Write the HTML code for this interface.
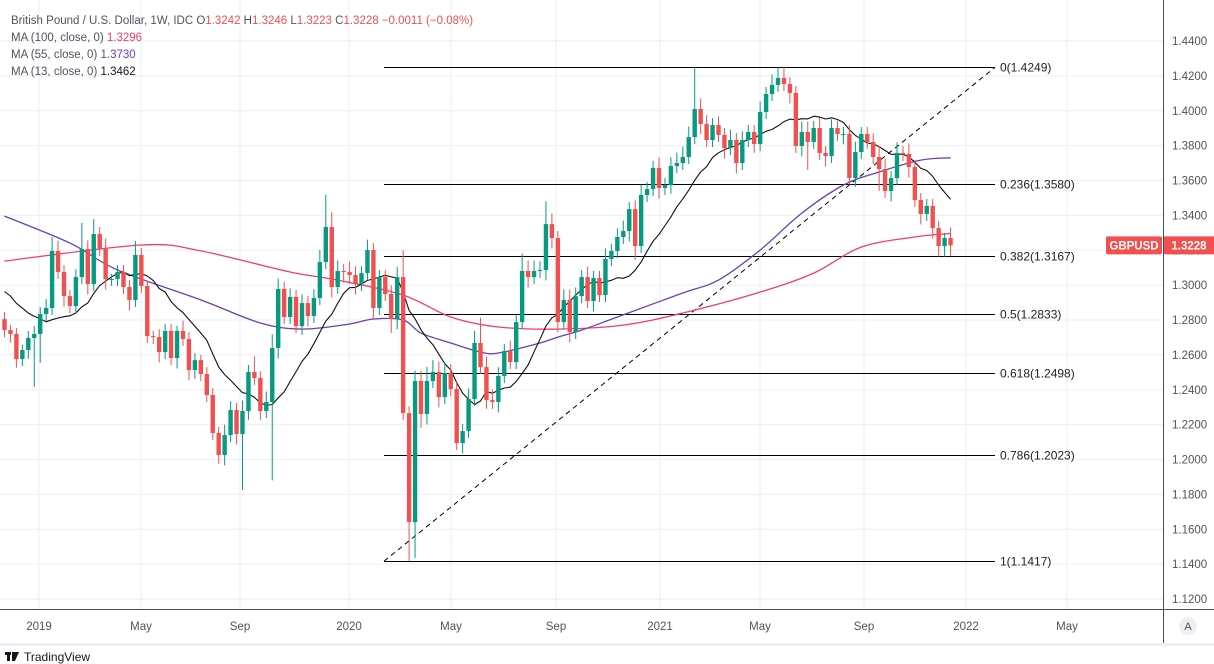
<!DOCTYPE html>
<html><head><meta charset="utf-8"><style>
body{margin:0;background:#fff;width:1214px;height:664px;overflow:hidden;font-family:"Liberation Sans",sans-serif}
svg{position:absolute;left:0;top:0}
</style></head><body>
<svg id="c" width="1214" height="664"></svg>
<script>
const closes=[1.2742,1.2720,1.2576,1.2628,1.2697,1.2720,1.2834,1.2869,1.3196,1.3075,1.2937,1.2880,1.3046,1.3207,1.3006,1.3293,1.3207,1.3035,1.3035,1.3075,
1.2989,1.2915,1.3173,1.2995,1.2708,1.2702,1.2616,1.2737,1.2582,1.2737,1.2691,1.2513,1.2570,1.2490,1.2370,1.2152,1.2026,1.2140,1.2284,1.2146,
1.2278,1.2502,1.2467,1.2278,1.2330,1.2639,1.2978,1.2817,1.2932,1.2765,1.2897,1.2823,1.2926,1.3132,1.3333,1.2989,1.3081,1.3075,1.3058,1.3006,
1.3069,1.3201,1.2869,1.3046,1.2949,1.2806,1.3046,1.2266,1.1641,1.2450,1.2261,1.2450,1.2502,1.2358,1.2496,1.2404,1.2094,1.2163,1.2347,1.2668,
1.2530,1.2341,1.2330,1.2479,1.2622,1.2559,1.2788,1.3081,1.3046,1.3081,1.3087,1.3350,1.3270,1.2788,1.2915,1.2731,1.2937,1.3046,1.2909,1.3041,
1.2943,1.3150,1.3196,1.3276,1.3310,1.3436,1.3224,1.3517,1.3551,1.3672,1.3557,1.3574,1.3683,1.3700,1.3735,1.3849,1.4010,1.3924,1.3832,1.3918,
1.3861,1.3786,1.3832,1.3700,1.3832,1.3878,1.3809,1.3993,1.4096,1.4148,1.4188,1.4153,1.4102,1.3798,1.3878,1.3821,1.3901,1.3758,1.3740,1.3901,
1.3867,1.3867,1.3614,1.3763,1.3867,1.3821,1.3735,1.3666,1.3540,1.3614,1.3758,1.3752,1.3677,1.3488,1.3408,1.3454,1.3327,1.3224,1.3270,1.3228];
const firstOpen=1.2805;
const preCloses=[1.3050,1.3120,1.2990,1.3070,1.2960,1.3010,1.3100,1.3040,1.2950,1.2840,1.2800,1.2850];
const wickUp=[40,30,35,30,40,45,40,50,80,60,40,35,45,150,50,85,40,60,30,40,
40,40,80,40,30,30,45,40,40,30,60,40,40,30,40,40,35,60,50,40,
60,40,90,40,60,80,60,40,50,40,50,40,50,70,185,85,60,40,60,50,
40,60,40,40,40,50,60,155,40,60,60,80,70,60,60,50,40,40,60,70,
145,60,60,50,40,60,40,100,60,60,50,130,60,40,60,60,50,40,60,40,
40,60,40,50,60,40,50,60,40,40,60,40,50,60,60,60,240,60,50,40,
50,40,60,40,50,40,40,60,40,60,60,65,40,40,60,60,40,60,40,50,
40,40,50,60,40,40,50,60,60,40,60,40,60,40,40,40,40,40,30,60];
const wickDn=[40,50,50,40,50,280,165,40,40,40,60,40,40,40,60,40,40,60,40,40,
40,60,40,40,40,40,60,40,40,60,40,60,50,40,40,40,50,60,40,60,
320,50,40,50,40,450,60,40,40,40,50,60,40,40,40,60,40,60,50,60,
40,40,60,40,40,80,60,40,225,205,80,60,40,60,40,40,40,60,40,40,
40,50,40,60,40,40,40,40,60,40,40,60,60,60,40,60,40,40,40,60,
40,40,40,40,40,60,80,40,40,40,60,40,50,40,40,40,40,60,40,40,
40,60,40,60,40,40,50,40,40,40,40,40,60,40,60,160,40,40,60,40,
40,60,40,50,40,40,40,125,40,60,40,40,60,40,60,40,60,60,60,60];
const ma100Idx=[0,23,33,48,56,67,75,83,93,104,114,127,136,144,153,159];
const ma100Val=[1.3138,1.3230,1.3196,1.3075,1.3029,1.2943,1.2817,1.2760,1.2748,1.2771,1.2840,1.2960,1.3069,1.3218,1.3276,1.3296];
const ma55Idx=[0,11,19,33,43,50,58,62,67,70,75,80,83,90,93,97,103,114,120,127,134,141,147,154,159];
const ma55Val=[1.3396,1.3241,1.3087,1.2915,1.2783,1.2748,1.2777,1.2806,1.2800,1.2725,1.2668,1.2616,1.2611,1.2668,1.2702,1.2742,1.2817,1.2955,1.3029,1.3201,1.3413,1.3574,1.3649,1.3717,1.3730];
const yTicks=[1.44,1.42,1.40,1.38,1.36,1.34,1.32,1.30,1.28,1.26,1.24,1.22,1.20,1.18,1.16,1.14,1.12];
const xLabels=["2019","May","Sep","2020","May","Sep","2021","May","Sep","2022","May"];
const xLabelPos=[39,141,240,349,451,556,660,760,864,966,1067];
const fibLevels=["0","0.236","0.382","0.5","0.618","0.786","1"];
const fibPrices=[1.4249,1.3580,1.3167,1.2833,1.2498,1.2023,1.1417];
const fibLow=1.1417, fibHigh=1.4249;

const NS="http://www.w3.org/2000/svg";
const svg=document.getElementById('c');
const Y=p=>41+(1.44-p)*1743.75;
const X=i=>4.5+i*5.95;
function el(t,a,par){const e=document.createElementNS(NS,t);for(const k in a)e.setAttribute(k,a[k]);(par||svg).appendChild(e);return e;}
function txt(x,y,s,a){const e=el('text',Object.assign({x:x,y:y,'font-size':12,fill:'#131722','font-family':'Liberation Sans, sans-serif'},a||{}));e.textContent=s;return e;}

const grid=el('g',{});
yTicks.forEach(p=>{el('line',{x1:0,x2:1163,y1:Y(p),y2:Y(p),stroke:'#eaeff4','stroke-width':1},grid);});
xLabelPos.forEach(x=>{el('line',{x1:x,x2:x,y1:0,y2:609,stroke:'#eaeff4','stroke-width':1},grid);});

const fib=el('g',{});
fibLevels.forEach((l,k)=>{const p=fibPrices[k];const y=Math.round(Y(p))+0.5;
 const ln=el('line',{x1:384,x2:995,y1:y,y2:y,stroke:'#000','stroke-width':1},fib);
 
 const t=txt(1000,y+4,l+'('+p.toFixed(4)+')',{'font-size':12,fill:'#222'});fib.appendChild(t);
 });
const tl=el('line',{x1:384,y1:Y(fibLow),x2:995,y2:Y(fibHigh),stroke:'#000','stroke-width':1,'stroke-dasharray':'5,4'});


function smooth(idx,val){const P=idx.map((v,k)=>[X(v),Y(val[k])]);let d='M'+P[0][0].toFixed(1)+','+P[0][1].toFixed(1);
 for(let k=0;k<P.length-1;k++){const p0=P[Math.max(0,k-1)],p1=P[k],p2=P[k+1],p3=P[Math.min(P.length-1,k+2)];
  const c1=[p1[0]+(p2[0]-p0[0])/6,p1[1]+(p2[1]-p0[1])/6],c2=[p2[0]-(p3[0]-p1[0])/6,p2[1]-(p3[1]-p1[1])/6];
  d+=' C'+c1[0].toFixed(1)+','+c1[1].toFixed(1)+' '+c2[0].toFixed(1)+','+c2[1].toFixed(1)+' '+p2[0].toFixed(1)+','+p2[1].toFixed(1);}
 return d;}
const m100=el('path',{d:smooth(ma100Idx,ma100Val),fill:'none',stroke:'#f23c6e','stroke-width':1.3});

const m55=el('path',{d:smooth(ma55Idx,ma55Val),fill:'none',stroke:'#6a3fb0','stroke-width':1.3});

const all=preCloses.concat(closes);let p13=[];
for(let i=0;i<closes.length;i++){let s=0;for(let k=i;k<i+13;k++)s+=all[k];p13.push(X(i).toFixed(1)+','+Y(s/13).toFixed(1));}
const m13=el('polyline',{points:p13.join(' '),fill:'none',stroke:'#111','stroke-width':1.1,'stroke-linejoin':'round'});


const cg=el('g',{});
closes.forEach((c,i)=>{const o=i?closes[i-1]:firstOpen;const up=c>=o;const col=up?'#089981':'#f0504f';
 const hi=Math.max(o,c)+wickUp[i]/10000, lo=Math.min(o,c)-wickDn[i]/10000;const x=X(i);
 const g=el('g',{},cg);
 el('line',{x1:x,x2:x,y1:Y(hi),y2:Y(lo),stroke:col,'stroke-width':1},g);
 const t=Y(Math.max(o,c)),b=Y(Math.min(o,c));
 el('rect',{x:x-2.2,y:t,width:4.4,height:Math.max(1,b-t),fill:col},g);});

const ax=el('g',{});
el('line',{x1:1163.5,x2:1163.5,y1:0,y2:644,stroke:'#4a4e57','stroke-width':1},ax);
yTicks.forEach(p=>{const t=txt(1172,Y(p)+4,p.toFixed(4),{fill:'#50535e','font-size':11.5});ax.appendChild(t);});
const tx=el('g',{});
el('line',{x1:0,x2:1214,y1:609.5,y2:609.5,stroke:'#4a4e57','stroke-width':1},tx);
el('rect',{x:0,y:643,width:1214,height:3,fill:'#eef0f3'},tx);
xLabels.forEach((s,k)=>{const t=txt(xLabelPos[k],630,s,{fill:'#50535e','font-size':11.5,'text-anchor':'middle'});tx.appendChild(t);});
const ab=el('circle',{cx:1188,cy:626,r:9,fill:'#eceef2'});
txt(1188,630,'A',{'font-size':11,fill:'#50535e','text-anchor':'middle'});

const yl=Y(closes[closes.length-1]);
const tag=el('g',{});
el('rect',{x:1106,y:yl-9,width:56,height:18,rx:2,fill:'#f0504f'},tag);
el('rect',{x:1164,y:yl-9,width:50,height:18,fill:'#f0504f'},tag);
tag.appendChild(txt(1134,yl+4,'GBPUSD',{fill:'#fff','font-size':11.5,'text-anchor':'middle','font-weight':'bold'}));
tag.appendChild(txt(1189,yl+4,closes[closes.length-1].toFixed(4),{fill:'#fff','font-size':11.5,'text-anchor':'middle','font-weight':'bold'}));

const lg=el('g',{});
function leg(y,parts){const t=el('text',{x:11,y:y,'font-size':11.5,'font-family':'Liberation Sans, sans-serif','xml:space':'preserve'},lg);
 parts.forEach(([s,c])=>{const sp=el('tspan',{fill:c},t);sp.textContent=s;});return t;}
const l1=leg(24,[['British Pound / U.S. Dollar, 1W, IDC  O','#50535e'],['1.3242 ','#f0504f'],[' H','#50535e'],['1.3246 ','#f0504f'],[' L','#50535e'],['1.3223 ','#f0504f'],[' C','#50535e'],['1.3228  −0.0011 (−0.08%)','#f0504f']]);

const l2=leg(41,[['MA (100, close, 0)  ','#50535e'],['1.3296','#f23c6e']]);
const l3=leg(58,[['MA (55, close, 0)  ','#50535e'],['1.3730','#6a3fb0']]);
const l4=leg(75,[['MA (13, close, 0)  ','#50535e'],['1.3462','#131722']]);

const ft=el('g',{});
el('rect',{x:5,y:652,width:6,height:3,fill:'#131722'},ft);el('rect',{x:7,y:652,width:3,height:9,fill:'#131722'},ft);
el('polygon',{points:'12,652 19,652 15,661 12,661',fill:'#131722'},ft);
ft.appendChild(txt(24,661,'TradingView',{'font-size':12,fill:'#131722'}));
</script>
</body></html>
